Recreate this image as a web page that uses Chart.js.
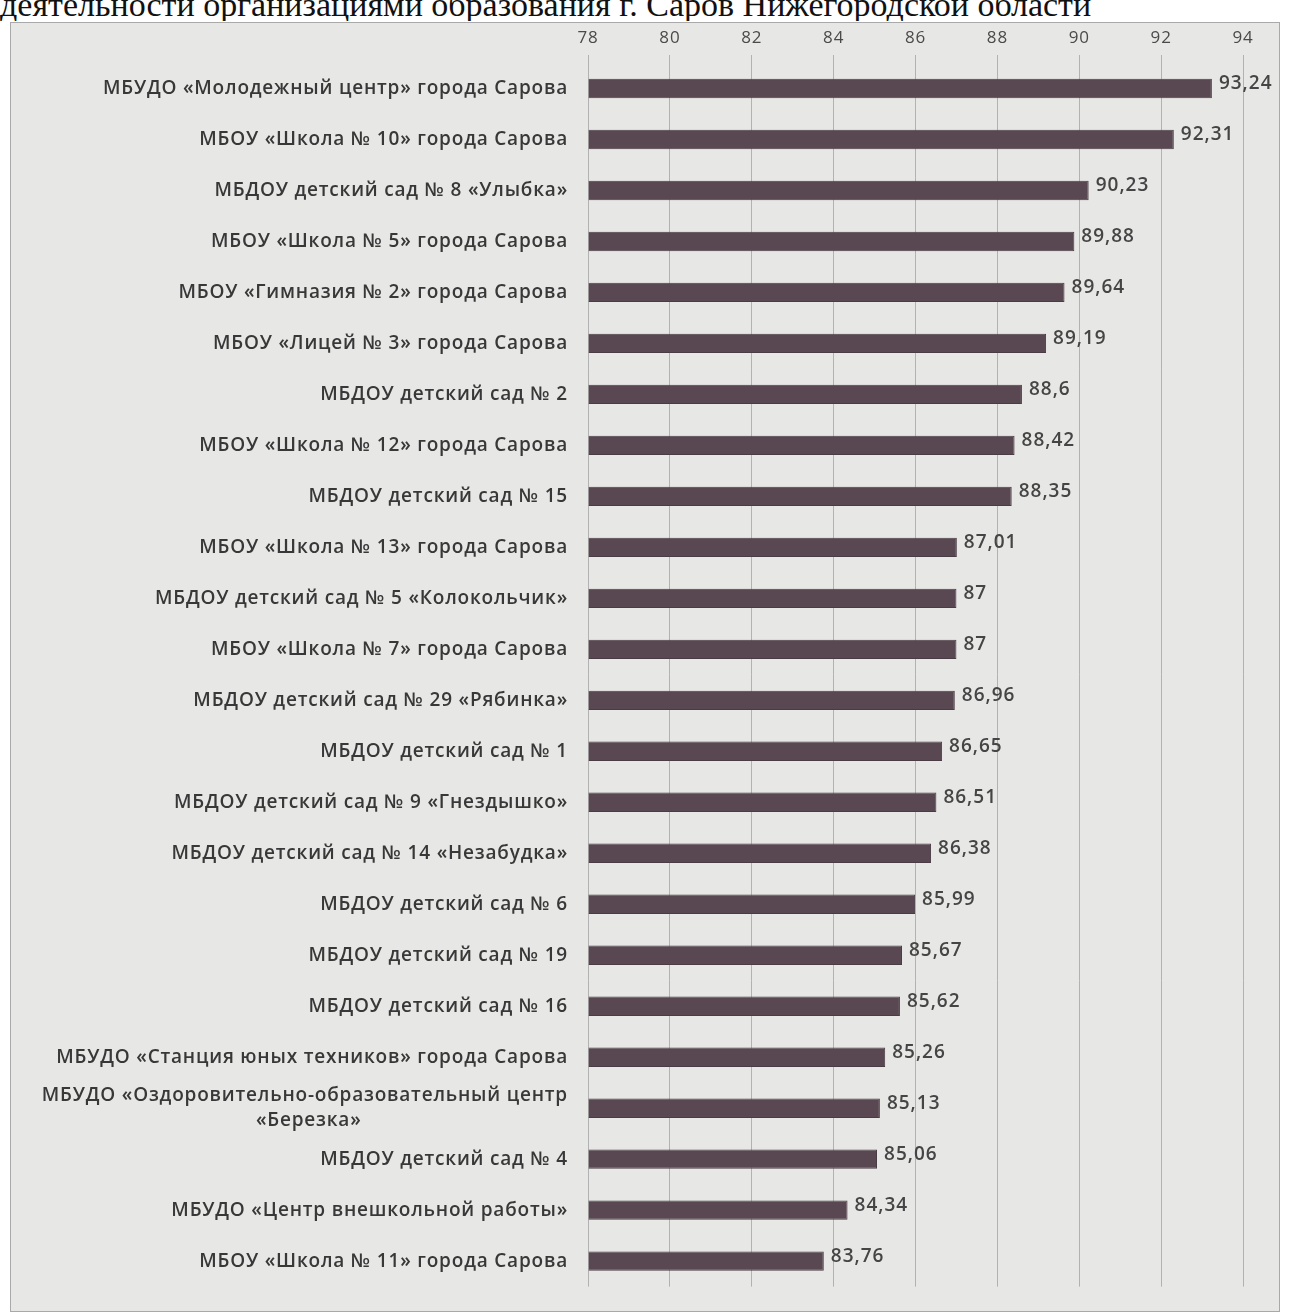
<!DOCTYPE html>
<html>
<head>
<meta charset="utf-8">
<script src="https://cdn.jsdelivr.net/npm/chart.js@4"></script>
<style>
  body { margin: 0; background: #fff; width: 1289px; height: 1313px; overflow: hidden; position: relative; }
  #title { position: absolute; left: 0; top: 0; width: 1289px; height: 21px; overflow: hidden; }
  #title span { position: absolute; left: 0; top: -12px; line-height: 34px; font-family: "Liberation Serif", serif; font-size: 34px; color: #111; white-space: nowrap; }
  #frame { position: absolute; left: 10px; top: 22px; width: 1268px; height: 1288px; border: 1px solid #a9a9a9; background: #e7e7e5; }
</style>
</head>
<body>
<div id="title"><span>деятельности организациями образования г. Саров Нижегородской области</span></div>
<div id="frame"><canvas id="rating" width="1268" height="1288"></canvas></div>
<script>
// Организации (сверху вниз)
const organizations = [
    'МБУДО «Молодежный центр» города Сарова',
    'МБОУ «Школа № 10» города Сарова',
    'МБДОУ детский сад № 8 «Улыбка»',
    'МБОУ «Школа № 5» города Сарова',
    'МБОУ «Гимназия № 2» города Сарова',
    'МБОУ «Лицей № 3» города Сарова',
    'МБДОУ детский сад № 2',
    'МБОУ «Школа № 12» города Сарова',
    'МБДОУ детский сад № 15',
    'МБОУ «Школа № 13» города Сарова',
    'МБДОУ детский сад № 5 «Колокольчик»',
    'МБОУ «Школа № 7» города Сарова',
    'МБДОУ детский сад № 29 «Рябинка»',
    'МБДОУ детский сад № 1',
    'МБДОУ детский сад № 9 «Гнездышко»',
    'МБДОУ детский сад № 14 «Незабудка»',
    'МБДОУ детский сад № 6',
    'МБДОУ детский сад № 19',
    'МБДОУ детский сад № 16',
    'МБУДО «Станция юных техников» города Сарова',
    ['МБУДО «Оздоровительно-образовательный центр', '«Березка»'],
    'МБДОУ детский сад № 4',
    'МБУДО «Центр внешкольной работы»',
    'МБОУ «Школа № 11» города Сарова'
];

// Баллы
const scores = [93.24, 92.31, 90.23, 89.88, 89.64, 89.19, 88.6, 88.42, 88.35, 87.01, 87, 87,
    86.96, 86.65, 86.51, 86.38, 85.99, 85.67, 85.62, 85.26, 85.13, 85.06, 84.34, 83.76];

// Шкала
const axisMin = 78;
const axisMax = 94;
const axisStep = 2;

const font = '"Open Sans", "Liberation Sans", sans-serif';

// вторую строку подписи центрируем под первой (выравнивание справа)
function padLine(line, i) {
    return i > 0 ? line + '\u00A0'.repeat(36) : line;
}

// небольшая разрядка букв, как на скане
const spacing = {
    id: 'spacing',
    beforeDraw(chart) { chart.ctx.letterSpacing = '0.8px'; }
};

// Подписи значений справа от столбцов
const valueLabels = {
    id: 'valueLabels',
    afterDatasetsDraw(chart) {
        const c = chart.ctx;
        const meta = chart.getDatasetMeta(0);
        c.save();
        c.font = '600 19px ' + font;
        c.letterSpacing = '1px';
        c.fillStyle = '#454545';
        c.textBaseline = 'middle';
        meta.data.forEach(function (bar, i) {
            const txt = String(scores[i]).replace('.', ',');
            c.fillText(txt, bar.x + 7, bar.y - 5);
        });
        c.restore();
    }
};

const ctx = document.getElementById('rating').getContext('2d');
const ratingChart = new Chart(ctx, {
    type: 'bar',
    data: {
        labels: organizations.map(function (l) { return Array.isArray(l) ? l.map(padLine) : l; }),
        datasets: [{
            data: scores,
            backgroundColor: '#594851',
            borderColor: '#4a3c44',
            borderWidth: 1,
            base: axisMin,
            barPercentage: 0.38,
            categoryPercentage: 1
        }]
    },
    options: {
        indexAxis: 'y',
        responsive: false,
        animation: false,
        layout: { padding: { left: 0, right: 36, top: 0, bottom: 22 } },
        plugins: { legend: { display: false }, tooltip: { enabled: false } },
        scales: {
            x: {
                position: 'top',
                min: axisMin,
                max: axisMax,
                ticks: { stepSize: axisStep, color: '#4a4a4a', font: { family: font, size: 17 }, padding: 7 },
                grid: { color: '#b2b2b2', lineWidth: 1, tickLength: 8 },
                border: { display: false },
                afterFit(scale) { scale.height = 40; }
            },
            y: {
                ticks: { autoSkip: false, color: '#383838', font: { family: font, size: 19, weight: '600', lineHeight: 1.3 }, padding: 12 },
                grid: { display: false },
                border: { display: false },
                afterFit(scale) { scale.width = 577; }
            }
        }
    },
    plugins: [spacing, valueLabels]
});
</script>
</body>
</html>
